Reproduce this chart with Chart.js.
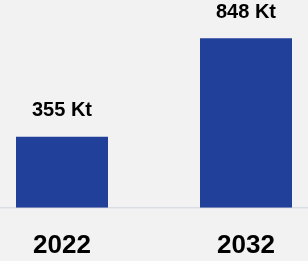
<!DOCTYPE html>
<html>
<head>
<meta charset="utf-8">
<script src="https://cdn.jsdelivr.net/npm/chart.js@4"></script>
<style>
  html, body { margin: 0; padding: 0; background: #f2f2f2; overflow: hidden; width: 308px; height: 261px; }
  #wrap { position: absolute; left: -30px; top: 0; width: 368px; height: 283px; }
</style>
</head>
<body>
<div id="wrap"><canvas id="chart"></canvas></div>
<script>
const years = ["2022", "2032"];
const volumes = [355, 848];
const unit = "Kt";

// value labels above each bar
const valueLabels = {
  id: "valueLabels",
  afterDatasetsDraw(chart) {
    const ctx = chart.ctx;
    const meta = chart.getDatasetMeta(0);
    ctx.save();
    ctx.font = "bold 20px 'Liberation Sans', Arial, sans-serif";
    ctx.fillStyle = "#000";
    ctx.textAlign = "center";
    ctx.textBaseline = "middle";
    meta.data.forEach((bar, i) => {
      ctx.fillText(volumes[i] + " " + unit, bar.x, bar.y - 26);
    });
    ctx.restore();
  }
};

new Chart(document.getElementById("chart"), {
  type: "bar",
  data: {
    labels: years,
    datasets: [{
      data: volumes,
      backgroundColor: "#21409a",
      barPercentage: 0.5,
      categoryPercentage: 1.0
    }]
  },
  options: {
    responsive: true,
    maintainAspectRatio: false,
    animation: false,
    layout: { padding: 0 },
    plugins: { legend: { display: false }, tooltip: { enabled: false } },
    scales: {
      y: { display: false, min: 0, max: 1040 },
      x: {
        grid: { display: false, drawTicks: false },
        border: { display: true, color: "#d9dde3", width: 1.5 },
        ticks: {
          color: "#000",
          padding: 22,
          font: { family: "'Liberation Sans', Arial, sans-serif", size: 26, weight: "bold" }
        }
      }
    }
  },
  plugins: [valueLabels]
});
</script>
</body>
</html>
